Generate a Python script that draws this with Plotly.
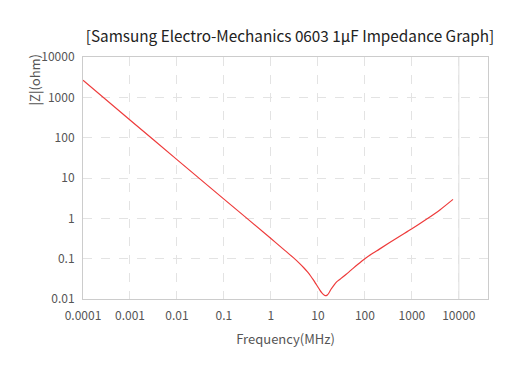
import plotly.graph_objects as go

# (frequency in MHz, |Z| in ohm)
freq_mhz = [0.0001, 0.001, 0.01, 0.1, 1, 2, 3, 4, 5, 6, 7, 8, 9, 10, 11, 12,
            13, 14, 15, 16, 17, 19, 22, 25, 30, 40, 50, 70, 100, 150, 200,
            500, 1000, 2000, 4000, 7500]
impedance_ohm = [2650, 275, 28.5, 3.0, 0.316, 0.158, 0.106, 0.0776, 0.0596,
                 0.0468, 0.0372, 0.0298, 0.0240, 0.0198, 0.0166, 0.0144,
                 0.0130, 0.01225, 0.0121, 0.0127, 0.0139, 0.0174, 0.0222,
                 0.0265, 0.0313, 0.0410, 0.0512, 0.0716, 0.1, 0.138, 0.17,
                 0.335, 0.55, 0.933, 1.64, 2.95]

x_tick_vals = [0.0001, 0.001, 0.01, 0.1, 1, 10, 100, 1000, 10000]
x_tick_text = ["0.0001", "0.001", "0.01", "0.1", "1", "10", "100", "1000", "10000"]
y_tick_vals = [0.01, 0.1, 1, 10, 100, 1000, 10000]
y_tick_text = ["0.01", "0.1", "1", "10", "100", "1000", "10000"]

title_text = "[Samsung Electro-Mechanics 0603 1µF Impedance Graph]"
x_title = "Frequency(MHz)"
y_title = "|Z|(ohm)"

FONT = "Noto Sans CJK KR, Noto Sans, sans-serif"

fig = go.Figure()
fig.add_trace(go.Scatter(
    x=freq_mhz, y=impedance_ohm, mode="lines",
    line=dict(color="#ee3b3b", width=1.2, shape="spline", smoothing=0.8),
    hoverinfo="skip", showlegend=False,
))

fig.add_shape(type="line", xref="x", yref="paper", x0=10000, x1=10000, y0=0, y1=1,
              line=dict(color="#dddddd", width=1), layer="below")

fig.update_layout(
    width=528, height=366,
    margin=dict(l=83, r=40, t=57, b=67, autoexpand=False),
    paper_bgcolor="white", plot_bgcolor="white",
    font=dict(family=FONT, size=12, color="#555555"),
    title=dict(text=title_text, x=290 / 528, xanchor="center", xref="container",
               y=1 - 37 / 366, yanchor="middle", yref="container",
               font=dict(family=FONT, size=15.3, color="#222222")),
    showlegend=False,
)
fig.update_xaxes(
    type="log", range=[-4, 4.62], automargin=False,
    tickvals=x_tick_vals, ticktext=x_tick_text,
    showgrid=True, gridcolor="#e3e3e3", griddash="dash", gridwidth=1,
    showline=True, linecolor="#cccccc", linewidth=1, mirror=True,
    ticks="", zeroline=False, ticklabelstandoff=6,
    title=dict(text=x_title, font=dict(family=FONT, size=13, color="#555555"), standoff=12),
)
fig.update_yaxes(
    type="log", range=[-2, 4], automargin=False,
    tickvals=y_tick_vals, ticktext=y_tick_text,
    showgrid=True, gridcolor="#e3e3e3", griddash="dash", gridwidth=1,
    showline=True, linecolor="#cccccc", linewidth=1, mirror=True,
    ticks="", zeroline=False, ticklabelstandoff=5,
)
fig.add_annotation(
    text=y_title, textangle=-90, xref="paper", yref="paper",
    x=-0.119, y=1.02, xanchor="center", yanchor="top", showarrow=False,
    font=dict(family=FONT, size=13, color="#555555"),
)

fig.write_html("out.html", config={"displayModeBar": False},
               post_script="document.body.style.margin='0';")
